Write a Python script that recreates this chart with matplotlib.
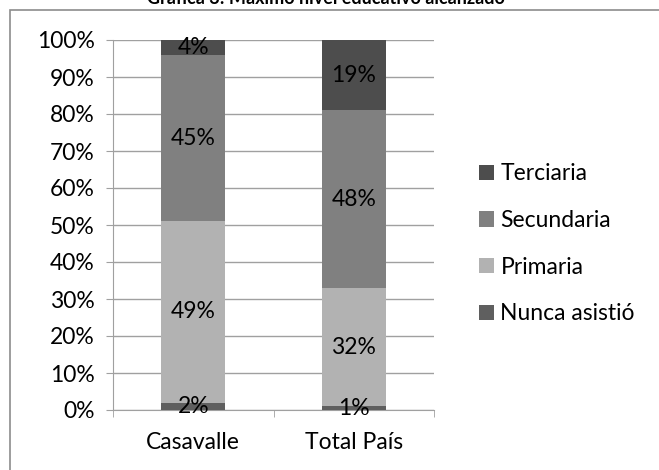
import numpy as np
import matplotlib
matplotlib.use("Agg")
import matplotlib.pyplot as plt
from matplotlib.patches import Rectangle

plt.rcParams['font.family'] = ['Lato', 'DejaVu Sans']

categories = ["Casavalle", "Total País"]
series = ["Nunca asistió", "Primaria", "Secundaria", "Terciaria"]
values = {
    "Nunca asistió": [2, 1],
    "Primaria": [49, 32],
    "Secundaria": [45, 48],
    "Terciaria": [4, 19],
}
colors = {
    "Nunca asistió": "#5f5f5f",
    "Primaria": "#b2b2b2",
    "Secundaria": "#808080",
    "Terciaria": "#4d4d4d",
}
title = "Gráfica 3: Máximo nivel educativo alcanzado"

W, H = 659, 470
fs = 16.5
fig = plt.figure(figsize=(W / 100, H / 100), dpi=100)

# chart frame (goes off the image on right and bottom)
fig.patches.append(Rectangle((10 / W, -0.1), 1.2, 1 - 10 / H + 0.1,
                             transform=fig.transFigure, fill=False,
                             edgecolor="#8c8c8c", linewidth=1.2))

ax = fig.add_axes([113 / W, 1 - 410 / H, (434 - 113) / W, (410 - 40) / H])
x = np.arange(len(categories))
bottom = np.zeros(len(categories))
bars = {}
for s in series:
    v = np.array(values[s], dtype=float)
    bars[s] = ax.bar(x, v / 100, width=0.4, bottom=bottom / 100,
                     color=colors[s], label=s, zorder=3)
    for xi, vi, bi in zip(x, v, bottom):
        ax.text(xi, (bi + vi / 2) / 100, "%d%%" % vi, ha="center", va="center",
                fontsize=fs, color="black", zorder=4)
    bottom += v

ax.set_xlim(-0.5, 1.5)
ax.set_ylim(0, 1)
ax.set_yticks(np.arange(0, 1.01, 0.1))
ax.set_yticklabels(["%d%%" % round(t * 100) for t in np.arange(0, 1.01, 0.1)], fontsize=fs)
ax.set_xticks(x)
ax.set_xticklabels(categories, fontsize=fs)
ax.set_xticks([-0.5, 0.5, 1.5], minor=True)
ax.tick_params(axis="x", which="major", length=0, pad=16)
ax.tick_params(axis="x", which="minor", length=5, color="#a0a0a0")
ax.tick_params(axis="y", length=5, color="#a0a0a0", pad=8)
ax.grid(axis="y", color="#a0a0a0", linewidth=1, zorder=0)
for side in ["top", "right"]:
    ax.spines[side].set_visible(False)
for side in ["left", "bottom"]:
    ax.spines[side].set_color("#a0a0a0")

handles = [bars[s] for s in reversed(series)]
fig.legend(handles, list(reversed(series)), loc="center left",
           bbox_to_anchor=(458 / W, 1 - 244 / H), frameon=False, fontsize=fs,
           handlelength=0.65, handleheight=0.65, handletextpad=0.3, labelspacing=1.12)

fig.text(0.495, 1 - 4 / H, title, ha="center", va="baseline", fontsize=13, fontweight="bold")

fig.savefig("out.png", dpi=100)
